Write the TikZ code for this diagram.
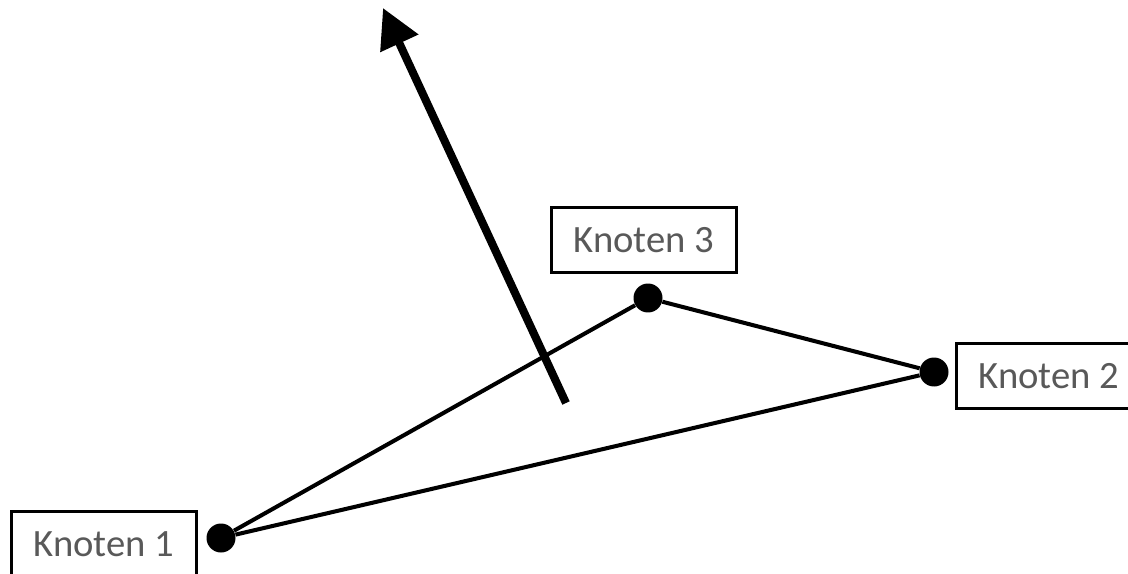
\documentclass[tikz,border=0pt]{standalone}
\usepackage{fontspec}
\setmainfont{Carlito}
\usepackage{tikz}
\usetikzlibrary{positioning, arrows.meta}
\definecolor{textgrau}{RGB}{89,89,89}

\begin{document}
\begin{tikzpicture}[
  x=0.02cm, y=-0.02cm,
  knoten/.style={circle, fill=black, inner sep=0pt, minimum size=0.58cm},
  etikett/.style={draw, line width=1.2pt, minimum width=3.7cm, minimum height=1.3cm,
                  inner sep=0pt, text=textgrau, font=\fontsize{22}{26}\selectfont},
  kante/.style={line width=2.3pt},
  pfeil/.style={-{Triangle[length=0.78cm, width=0.8cm]}, line width=4.6pt},
]
\useasboundingbox (0,0) rectangle (1128,574);
\node[knoten] (k1) at (221,538) {};
\node[knoten] (k2) at (934,372) {};
\node[knoten] (k3) at (648,298) {};

\node[etikett] (l1) at (104,544) {Knoten 1};
\node[etikett] (l2) at (1049,376) {Knoten 2};
\node[etikett] (l3) at (644,240) {Knoten 3};

\draw[kante] (k1) -- (k3);
\draw[kante] (k3) -- (k2);
\draw[kante] (k2) -- (k1);

\coordinate (p0) at (566,403);
\coordinate (p1) at (383,8);
\draw[pfeil] (p0) -- (p1);
\end{tikzpicture}
\end{document}
